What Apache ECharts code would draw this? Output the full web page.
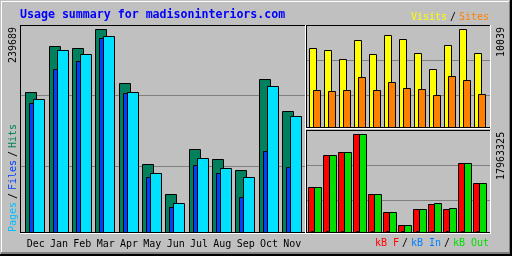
<!DOCTYPE html>
<html><head><meta charset="utf-8">
<script src="https://cdn.jsdelivr.net/npm/echarts@6/dist/echarts.min.js"></script>
<style>html,body{margin:0;padding:0;background:#c0c0c0}#c{width:512px;height:256px}</style>
</head><body><div id="c"></div>
<script>
// ---- data ----
const months = ['Dec','Jan','Feb','Mar','Apr','May','Jun','Jul','Aug','Sep','Oct','Nov'];
const hits  = [165300, 219600, 217300, 239689, 175900, 80300, 44900, 98000, 86200, 73200, 180700, 142900];
const files = [152300, 192500, 201900, 229100, 164100, 64900, 29500, 79100, 69700, 41300, 95600, 76700];
const pages = [157000, 214900, 210600, 231800, 165300, 69700, 34600, 87400, 75600, 64900, 172400, 137000];
const visits = [8093, 7888, 6966, 8912, 7478, 9424, 9014, 7580, 5941, 8400, 10039, 7580];
const sites  = [3790, 3688, 3790, 5122, 3790, 4610, 3995, 3893, 3278, 5224, 4815, 3380];
const kbF   = [8248000, 14114000, 14664000, 17963325, 6965000, 3666000, 1283000, 4216000, 5132000, 4216000, 12648000, 8982000];
const kbIn  = [150000, 150000, 150000, 150000, 150000, 150000, 150000, 150000, 150000, 150000, 150000, 150000];
const kbOut = [8248000, 14114000, 14664000, 17963325, 6965000, 3666000, 1283000, 4216000, 5316000, 4399000, 12648000, 8982000];
const maxLabels = ['239689', '10039', '17963325'];

const MONO = '"DejaVu Sans Mono"';

function barSeries(name, values, gridIdx, color, offset, width) {
  return {
    type: 'custom', name: name, xAxisIndex: gridIdx, yAxisIndex: gridIdx,
    silent: true, clip: false,
    data: values.map((v, i) => [i, v]),
    encode: { x: 0, y: 1 },
    renderItem: function (params, api) {
      const i = api.value(0), v = api.value(1);
      const c = api.coord([i, v]);
      const bw = api.size([1, 0])[0];
      const bs = c[0] - bw / 2;
      const x = Math.ceil(bs + offset - 0.01);
      const y = Math.round(c[1]);
      const y0 = Math.round(api.coord([i, 0])[1]);
      return {
        type: 'rect',
        shape: { x: x + 0.5, y: y + 0.5, width: width, height: y0 - y },
        style: { fill: color, stroke: '#000', lineWidth: 1 }
      };
    }
  };
}

function box(x, y, w, h, fill) {
  return { type: 'rect', z: 100, silent: true, shape: { x: x, y: y, width: w, height: h }, style: { fill: fill } };
}
function txt(x, y, s, color, font, rot, align, valign) {
  return {
    type: 'text', z: 100, silent: true, x: x, y: y, rotation: rot || 0,
    style: { text: s, fill: color, font: font, align: align || 'left', textAlign: align || 'left',
             verticalAlign: valign || 'middle', textVerticalAlign: valign || 'middle' }
  };
}

const W = '#ffffff', K = '#000000', G = '#808080';
const graphics = [
  // outer frame
  box(1, 1, 509, 1, W), box(1, 1, 1, 253, W),
  box(509, 1, 1, 253, G), box(1, 252, 509, 2, G),
  box(510, 0, 2, 256, K), box(0, 254, 512, 2, K),
  // left panel
  box(20, 25, 286, 1, K), box(20, 25, 1, 208, K), box(21, 232, 284, 1, K),
  box(20, 233, 286, 1, W), box(305, 25, 1, 209, W),
  // right top panel
  box(306, 25, 185, 1, K), box(306, 25, 1, 103, K), box(307, 127, 183, 1, K),
  box(306, 128, 185, 1, W), box(490, 25, 1, 104, W),
  // right bottom panel
  box(306, 130, 185, 1, K), box(306, 130, 1, 103, K), box(307, 232, 183, 1, K),
  box(306, 233, 185, 1, W), box(490, 130, 1, 104, W),
  // title
  txt(20, 15, 'Usage summary for madisoninteriors.com', '#0000ff', 'bold 11.6px ' + MONO),
  // top-right legend
  txt(411, 17, 'Visits', '#ffff00', '10px ' + MONO),
  txt(450, 17, '/', '#000000', '10px ' + MONO),
  txt(459, 17, 'Sites', '#ff8000', '10px ' + MONO),
  // bottom-right legend
  txt(375, 243, 'kB F', '#ff0000', '10px ' + MONO),
  txt(402, 243, '/', '#000000', '10px ' + MONO),
  txt(411, 243, 'kB In', '#0080ff', '10px ' + MONO),
  txt(444, 243, '/', '#000000', '10px ' + MONO),
  txt(453, 243, 'kB Out', '#00e000', '10px ' + MONO),
  // left rotated legend
  txt(13.5, 232, 'Pages', '#00c0ff', '10px ' + MONO, Math.PI / 2),
  txt(13.5, 199, '/', '#000000', '10px ' + MONO, Math.PI / 2),
  txt(13.5, 190, 'Files', '#0040ff', '10px ' + MONO, Math.PI / 2),
  txt(13.5, 157, '/', '#000000', '10px ' + MONO, Math.PI / 2),
  txt(13.5, 148, 'Hits', '#00805c', '10px ' + MONO, Math.PI / 2),
  // max labels
  txt(13.5, 63, maxLabels[0], '#000000', '10px ' + MONO, Math.PI / 2),
  txt(501.5, 57, maxLabels[1], '#000000', '10px ' + MONO, Math.PI / 2),
  txt(501.5, 180, maxLabels[2], '#000000', '10px ' + MONO, Math.PI / 2)
];

const gridLineAxis = (gi) => ({
  gridIndex: gi, type: 'value', min: 0, max: 1, interval: 1,
  axisLine: { show: false }, axisTick: { show: false }, axisLabel: { show: false },
  splitLine: { show: true, lineStyle: { color: '#808080', width: 1 } }
});

const option = {
  backgroundColor: '#c0c0c0',
  animation: false,
  grid: [
    { left: 21, top: 27, width: 280, height: 205 },
    { left: 305, top: 27, width: 180, height: 100 },
    { left: 305, top: 132, width: 180, height: 100 },
    { left: 21, top: 95, width: 284, height: 71 },
    { left: 307, top: 60, width: 183, height: 35 },
    { left: 307, top: 165, width: 183, height: 35 }
  ],
  xAxis: [
    { gridIndex: 0, type: 'category', data: months, axisLine: { show: false }, axisTick: { show: false },
      splitLine: { show: false },
      axisLabel: { interval: 0, color: '#000', fontFamily: 'DejaVu Sans Mono', fontSize: 10, margin: 7, padding: [0, 0, 0, 6] } },
    { gridIndex: 1, type: 'category', data: months, show: false },
    { gridIndex: 2, type: 'category', data: months, show: false },
    { gridIndex: 3, type: 'value', show: false },
    { gridIndex: 4, type: 'value', show: false },
    { gridIndex: 5, type: 'value', show: false }
  ],
  yAxis: [
    { gridIndex: 0, type: 'value', min: 0, max: 242050, show: false },
    { gridIndex: 1, type: 'value', min: 0, max: 10244, show: false },
    { gridIndex: 2, type: 'value', min: 0, max: 18330000, show: false },
    gridLineAxis(3), gridLineAxis(4), gridLineAxis(5)
  ],
  series: [
    barSeries('Hits', hits, 0, '#00805c', 4, 11),
    barSeries('Files', files, 0, '#0040ff', 8, 4),
    barSeries('Pages', pages, 0, '#00e0ff', 12, 11),
    barSeries('Visits', visits, 1, '#ffff00', 4, 7),
    barSeries('Sites', sites, 1, '#ff8000', 8, 7),
    barSeries('kB F', kbF, 2, '#ff0000', 3, 7),
    barSeries('kB In', kbIn, 2, '#0080ff', 6, 2),
    barSeries('kB Out', kbOut, 2, '#00e000', 9, 7)
  ],
  graphic: graphics
};
const chart = echarts.init(document.getElementById('c'));
chart.setOption(option);
</script>
</body></html>
